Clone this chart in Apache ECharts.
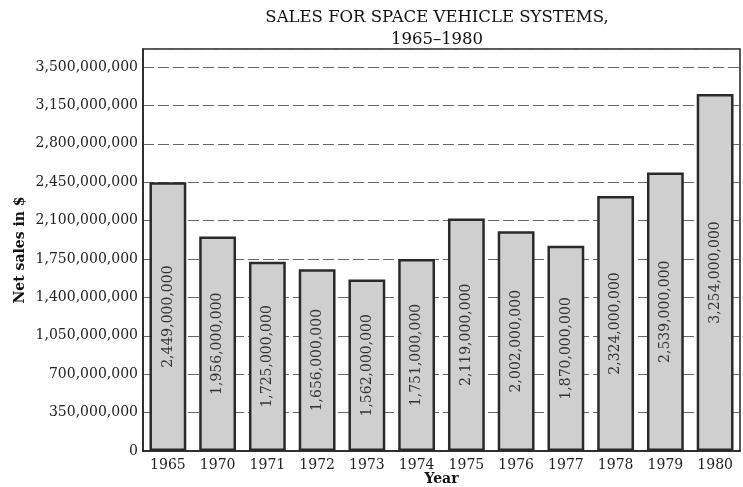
<!DOCTYPE html>
<html>
<head>
<meta charset="utf-8">
<script src="https://cdn.jsdelivr.net/npm/echarts@6/dist/echarts.min.js"></script>
<style>
  html, body { margin: 0; padding: 0; background: #fff; }
  #chart { width: 743px; height: 487px; }
</style>
</head>
<body>
<div id="chart"></div>
<script>
// data
let years = ['1965', '1970', '1971', '1972', '1973', '1974', '1975', '1976', '1977', '1978', '1979', '1980'];
let sales = [2449000000, 1956000000, 1725000000, 1656000000, 1562000000, 1751000000,
             2119000000, 2002000000, 1870000000, 2324000000, 2539000000, 3254000000];
let tickStep = 350000000;

let serif = 'DejaVu Serif';

function fmt(v) {
    return String(v).replace(/\B(?=(\d{3})+(?!\d))/g, ',');
}

let chart = echarts.init(document.getElementById('chart'));

chart.setOption({
    animation: false,
    title: {
        text: 'SALES FOR SPACE VEHICLE SYSTEMS,\n1965\u20131980',
        left: 437,
        top: 7,
        padding: 0,
        textAlign: 'center',
        textStyle: { fontFamily: serif, fontWeight: 'normal', fontSize: 16.5, color: '#111', lineHeight: 22 }
    },
    grid: {
        left: 143, right: 3, top: 49, bottom: 36,
        outerBoundsMode: 'none',
        containLabel: false,
        show: true, borderColor: '#222', borderWidth: 1.5, backgroundColor: '#fff'
    },
    xAxis: {
        type: 'category',
        data: years,
        name: 'Year',
        nameLocation: 'middle',
        nameGap: 21,
        nameMoveOverlap: false,
        nameTextStyle: { fontFamily: serif, fontWeight: 'bold', fontSize: 14, color: '#111' },
        axisLine: { lineStyle: { color: '#222', width: 1.5 } },
        axisTick: { show: false },
        axisLabel: { fontFamily: serif, fontSize: 14, color: '#222', margin: 7 }
    },
    yAxis: {
        type: 'value',
        min: 0,
        max: 3664000000,
        interval: tickStep,
        name: 'Net sales in $',
        nameLocation: 'middle',
        nameGap: 116,
        nameMoveOverlap: false,
        nameTextStyle: { fontFamily: serif, fontWeight: 'bold', fontSize: 14, color: '#111' },
        axisLine: { show: true, lineStyle: { color: '#222', width: 1.5 } },
        axisTick: { show: false },
        axisLabel: {
            fontFamily: serif, fontSize: 14, color: '#222', margin: 5,
            formatter: function (v) { return v % tickStep === 0 ? fmt(v) : ''; }
        },
        splitLine: { lineStyle: { color: '#666', width: 1, type: [11, 4] } }
    },
    series: [
        {
            type: 'bar',
            data: sales,
            barWidth: '74%',
            itemStyle: { color: '#cfcfcf', borderColor: '#2a2a2a', borderWidth: 2.5 },
            label: {
                show: true,
                position: 'inside',
                rotate: 90,
                fontFamily: serif,
                fontSize: 14,
                color: '#333',
                formatter: function (p) { return fmt(p.value); }
            }
        }
    ]
});
</script>
</body>
</html>
